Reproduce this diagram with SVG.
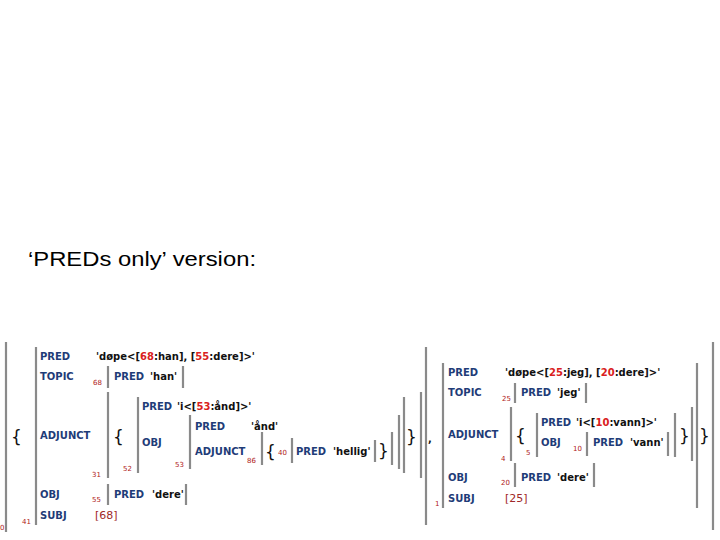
<svg xmlns="http://www.w3.org/2000/svg" width="720" height="540" viewBox="0 0 720 540">
<style>
.k{font-family:"DejaVu Sans",Verdana,sans-serif;font-weight:bold;font-size:10px;fill:#1f3c78}
.v{font-family:"DejaVu Sans",Verdana,sans-serif;font-weight:bold;font-size:10px;fill:#111}
.r{fill:#d92020}
.i{font-family:"DejaVu Sans",Verdana,sans-serif;font-size:7px;fill:#b01818}
.s{font-family:"DejaVu Sans",Verdana,sans-serif;font-size:11px;fill:#a02828}
.b{font-family:"DejaVu Sans",sans-serif;font-size:17px;fill:#111}
.bar{stroke:#8a8a8a;stroke-width:2.2;fill:none}
</style>
<rect width="720" height="540" fill="#fff"/>
<text x="28" y="266" font-family="Liberation Sans, Arial, sans-serif" font-size="20" fill="#000" textLength="228" lengthAdjust="spacingAndGlyphs">‘PREDs only’ version:</text>

<g id="brackets">
<path class="bar" d="M6 342V532M713 342V530M36 347V525M426 347V525M443 363V508M697 363V508"/>
<path class="bar" d="M108 366V388M183 366V388M108 392V478M421 392V478M138 397V473M404 397V473M190 415V469M399 415V469M262 432V465M392 432V465M292 438V463M375 440V462M108 484V505M186 484V505"/>
<path class="bar" d="M515 383V403M586 383V403M511 407V461M692 407V461M537 413V457M675 413V457M587 432V456M668 432V456M515 463V487M594 463V487"/>
</g>

<g id="outer">
<text class="b" x="11" y="443">{</text>
<text class="b" x="699" y="442">}</text>
<text class="v" x="428" y="442">,</text>
<text class="i" x="0" y="530">0</text>
</g>

<g id="fs1">
<text class="k" x="40" y="360">PRED</text>
<text class="v" x="96" y="360">'døpe&lt;[<tspan class="r">68</tspan>:han], [<tspan class="r">55</tspan>:dere]&gt;'</text>
<text class="k" x="40" y="380">TOPIC</text>
<text class="k" x="40" y="439">ADJUNCT</text>
<text class="k" x="40" y="498">OBJ</text>
<text class="k" x="40" y="519">SUBJ</text>
<text class="s" x="95" y="519">[68]</text>
<text class="i" x="22" y="524">41</text>
</g>

<g id="fs68">
<text class="i" x="93" y="385">68</text>
<text class="k" x="114" y="380">PRED</text>
<text class="v" x="150" y="380">'han'</text>
</g>

<g id="adj31">
<text class="i" x="92" y="477">31</text>
<text class="b" x="113" y="443">{</text>
<text class="b" x="406" y="443">}</text>
</g>

<g id="fs52">
<text class="i" x="123" y="471">52</text>
<text class="k" x="142" y="410">PRED</text>
<text class="v" x="177" y="410">'i&lt;[<tspan class="r">53</tspan>:ånd]&gt;'</text>
<text class="k" x="142" y="446">OBJ</text>
</g>

<g id="fs53">
<text class="i" x="175" y="467">53</text>
<text class="k" x="195" y="430">PRED</text>
<text class="v" x="251" y="430">'ånd'</text>
<text class="k" x="195" y="455">ADJUNCT</text>
<text class="i" x="247" y="463">86</text>
</g>

<g id="adj86">
<text class="b" x="265" y="458">{</text>
<text class="i" x="278" y="455">40</text>
<text class="k" x="296" y="455">PRED</text>
<text class="v" x="333" y="455">'hellig'</text>
<text class="b" x="378" y="457">}</text>
</g>

<g id="fs55">
<text class="i" x="92" y="502">55</text>
<text class="k" x="114" y="498">PRED</text>
<text class="v" x="152" y="498">'dere'</text>
</g>

<g id="fs2">
<text class="k" x="448" y="376">PRED</text>
<text class="v" x="505" y="376">'døpe&lt;[<tspan class="r">25</tspan>:jeg], [<tspan class="r">20</tspan>:dere]&gt;'</text>
<text class="k" x="448" y="396">TOPIC</text>
<text class="k" x="448" y="438">ADJUNCT</text>
<text class="k" x="448" y="481">OBJ</text>
<text class="k" x="448" y="502">SUBJ</text>
<text class="s" x="505" y="502">[25]</text>
<text class="i" x="435" y="506">1</text>
</g>

<g id="fs25">
<text class="i" x="502" y="401">25</text>
<text class="k" x="521" y="396">PRED</text>
<text class="v" x="557" y="396">'jeg'</text>
</g>

<g id="adj4">
<text class="i" x="501" y="461">4</text>
<text class="b" x="515" y="442">{</text>
<text class="b" x="679" y="442">}</text>
</g>

<g id="fs5">
<text class="i" x="526" y="455">5</text>
<text class="k" x="541" y="426">PRED</text>
<text class="v" x="576" y="426">'i&lt;[<tspan class="r">10</tspan>:vann]&gt;'</text>
<text class="k" x="541" y="446">OBJ</text>
</g>

<g id="fs10">
<text class="i" x="573" y="451">10</text>
<text class="k" x="593" y="446">PRED</text>
<text class="v" x="630" y="446">'vann'</text>
</g>

<g id="fs20">
<text class="i" x="501" y="485">20</text>
<text class="k" x="521" y="481">PRED</text>
<text class="v" x="557" y="481">'dere'</text>
</g>
</svg>
